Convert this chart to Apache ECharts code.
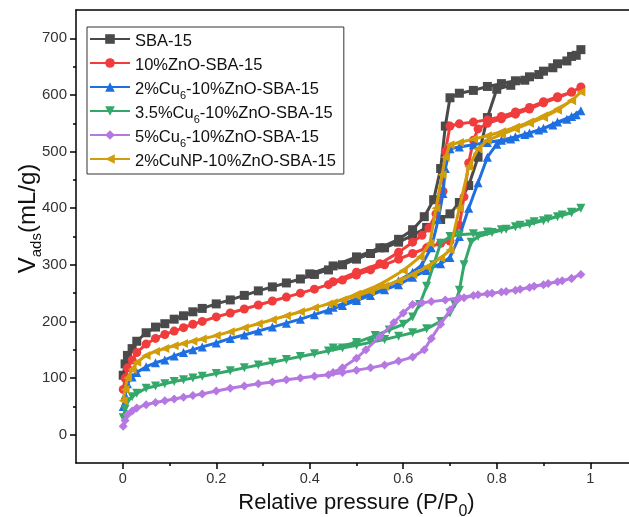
<!DOCTYPE html>
<html><head><meta charset="utf-8">
<script src="https://cdn.jsdelivr.net/npm/echarts@6/dist/echarts.min.js"></script>
<style>html,body{margin:0;padding:0;background:#fff}#c{width:629px;height:517px}</style>
</head><body><div id="c"></div>
<script>
const FONT = "'Liberation Sans', Arial, sans-serif";
const xTicks = [0, 0.2, 0.4, 0.6, 0.8, 1];
const xMinorTicks = [0.1, 0.3, 0.5, 0.7, 0.9];
const yTicks = [0, 100, 200, 300, 400, 500, 600, 700];
const yMinorTicks = [50, 150, 250, 350, 450, 550, 650];

const seriesNames = ['SBA-15', '10%ZnO-SBA-15', '2%Cu6-10%ZnO-SBA-15', '3.5%Cu6-10%ZnO-SBA-15', '5%Cu6-10%ZnO-SBA-15', '2%CuNP-10%ZnO-SBA-15'];
const seriesColors = ['#4a4a4a', '#f03c3c', '#1f6fe0', '#34a86a', '#b478e0', '#d29d0a'];
const seriesSymbols = ['rect', 'circle', 'triangle', 'triangle', 'diamond', 'triangle'];
const seriesRotate = [0, 0, 0, 180, 0, 90];

// [P/P0, V] adsorption branch then desorption branch
const sba15Ads = [[0.001,105],[0.005,125],[0.01,140],[0.02,152],[0.03,165],[0.05,180],[0.07,190],[0.09,196],[0.11,204],[0.13,210],[0.15,217],[0.17,223],[0.2,231],[0.23,238],[0.26,246],[0.29,254],[0.32,261],[0.35,268],[0.38,275],[0.41,283],[0.44,291],[0.47,300],[0.5,310],[0.53,320],[0.56,330],[0.59,340],[0.62,352],[0.65,366],[0.68,380],[0.70,390],[0.72,410],[0.74,440],[0.76,490],[0.78,560],[0.80,610],[0.83,617],[0.86,626],[0.89,636],[0.92,648],[0.95,660],[0.97,670],[0.98,680]];
const sba15Des = [[0.96,668],[0.93,655],[0.90,642],[0.87,632],[0.84,625],[0.81,620],[0.78,615],[0.75,608],[0.72,603],[0.70,595],[0.69,545],[0.68,470],[0.665,415],[0.645,385],[0.62,362],[0.59,345],[0.55,330],[0.5,314],[0.45,298],[0.4,284]];

const znoAds = [[0.001,80],[0.005,100],[0.01,118],[0.02,132],[0.03,145],[0.05,160],[0.07,170],[0.09,177],[0.11,183],[0.13,189],[0.15,195],[0.17,200],[0.2,208],[0.23,215],[0.26,222],[0.29,229],[0.32,236],[0.35,243],[0.38,250],[0.41,257],[0.44,265],[0.47,273],[0.5,282],[0.53,291],[0.56,300],[0.59,310],[0.62,320],[0.65,330],[0.68,338],[0.70,342],[0.72,370],[0.73,420],[0.74,480],[0.75,520],[0.76,540],[0.78,550],[0.81,558],[0.84,566],[0.87,575],[0.90,586],[0.93,595],[0.96,605],[0.98,614]];
const znoDes = [[0.96,605],[0.93,597],[0.90,588],[0.87,578],[0.84,570],[0.81,562],[0.78,556],[0.75,552],[0.72,549],[0.70,545],[0.69,500],[0.685,430],[0.67,390],[0.655,365],[0.64,352],[0.62,340],[0.59,322],[0.55,302],[0.5,287],[0.45,270]];

const cu2Ads = [[0.001,50],[0.005,70],[0.01,90],[0.02,102],[0.03,110],[0.05,120],[0.07,127],[0.09,132],[0.11,139],[0.13,145],[0.15,150],[0.17,155],[0.2,162],[0.23,170],[0.26,176],[0.29,183],[0.32,190],[0.35,197],[0.38,204],[0.41,212],[0.44,220],[0.47,228],[0.5,237],[0.53,246],[0.56,256],[0.59,265],[0.62,278],[0.65,290],[0.68,302],[0.70,313],[0.72,350],[0.74,400],[0.76,445],[0.78,490],[0.80,513],[0.83,522],[0.86,530],[0.89,538],[0.92,547],[0.95,557],[0.97,565],[0.98,572]];
const cu2Des = [[0.96,562],[0.93,552],[0.90,541],[0.87,533],[0.84,526],[0.81,520],[0.78,516],[0.75,512],[0.72,508],[0.70,505],[0.69,470],[0.685,426],[0.675,380],[0.66,330],[0.64,300],[0.62,287],[0.59,272],[0.55,258],[0.5,240],[0.45,225]];

const cu35Ads = [[0.001,30],[0.005,45],[0.01,58],[0.02,67],[0.03,73],[0.05,82],[0.07,86],[0.09,90],[0.11,94],[0.13,97],[0.15,100],[0.17,103],[0.2,108],[0.23,113],[0.26,118],[0.29,123],[0.32,128],[0.35,133],[0.38,138],[0.41,143],[0.44,148],[0.47,153],[0.5,158],[0.53,163],[0.56,168],[0.59,174],[0.62,180],[0.65,187],[0.68,200],[0.70,215],[0.71,230],[0.72,255],[0.73,300],[0.745,340],[0.76,350],[0.79,357],[0.82,363],[0.85,370],[0.88,376],[0.91,381],[0.94,388],[0.96,393],[0.98,400]];
const cu35Des = [[0.96,392],[0.93,385],[0.90,378],[0.87,372],[0.84,367],[0.81,362],[0.78,358],[0.75,355],[0.72,353],[0.70,350],[0.68,338],[0.665,300],[0.65,262],[0.635,230],[0.62,208],[0.6,195],[0.57,185],[0.54,175],[0.5,163],[0.45,153]];

const cu5Ads = [[0.001,15],[0.005,25],[0.01,35],[0.02,42],[0.03,47],[0.05,53],[0.07,57],[0.09,60],[0.11,63],[0.13,66],[0.15,69],[0.17,72],[0.2,77],[0.23,82],[0.26,86],[0.29,90],[0.32,93],[0.35,97],[0.38,100],[0.41,103],[0.44,106],[0.47,110],[0.5,114],[0.53,118],[0.56,123],[0.59,130],[0.62,137],[0.645,150],[0.66,170],[0.68,195],[0.70,220],[0.715,238],[0.73,242],[0.76,247],[0.79,250],[0.82,253],[0.85,257],[0.88,262],[0.91,267],[0.94,272],[0.96,276],[0.98,283]];
const cu5Des = [[0.96,276],[0.93,270],[0.90,265],[0.87,260],[0.84,255],[0.81,252],[0.78,249],[0.75,246],[0.72,242],[0.69,238],[0.66,235],[0.64,233],[0.62,230],[0.6,215],[0.58,198],[0.55,173],[0.52,150],[0.5,135],[0.47,118],[0.45,110]];

const cunpAds = [[0.001,60],[0.005,80],[0.01,100],[0.02,115],[0.03,128],[0.05,140],[0.07,147],[0.09,152],[0.11,157],[0.13,161],[0.15,165],[0.17,169],[0.2,175],[0.23,182],[0.26,189],[0.29,196],[0.32,203],[0.35,210],[0.38,217],[0.41,224],[0.44,231],[0.47,238],[0.5,245],[0.53,253],[0.56,262],[0.59,272],[0.62,283],[0.65,296],[0.68,312],[0.70,326],[0.72,400],[0.74,473],[0.76,505],[0.78,520],[0.81,530],[0.84,540],[0.87,550],[0.90,560],[0.93,573],[0.96,590],[0.98,605]];
const cunpDes = [[0.96,590],[0.93,575],[0.90,563],[0.87,552],[0.84,543],[0.81,535],[0.78,528],[0.75,522],[0.72,516],[0.70,512],[0.69,490],[0.683,459],[0.67,400],[0.657,338],[0.636,314],[0.6,290],[0.55,265],[0.5,248],[0.45,233]];

const seriesData = [
  sba15Ads.concat(sba15Des),
  znoAds.concat(znoDes),
  cu2Ads.concat(cu2Des),
  cu35Ads.concat(cu35Des),
  cu5Ads.concat(cu5Des),
  cunpAds.concat(cunpDes)
];

const axisLineStyle = { color: '#000', width: 1.5 };
const legendLabel = n => n.includes('Cu6') ? '{m|' + n.replace('Cu6', 'Cu}{sub|6}{m|') + '}' : '{m|' + n + '}';
const chart = echarts.init(document.getElementById('c'), null, { renderer: 'canvas' });
chart.setOption({
  animation: false,
  backgroundColor: '#fff',
  grid: { left: 76, right: -8, top: 10, bottom: 54, containLabel: false, outerBoundsMode: 'none' },
  legend: {
    orient: 'vertical', left: 87, top: 27,
    padding: [4, 8, 0, 2], itemGap: 1, itemWidth: 40, itemHeight: 12,
    borderColor: '#333', borderWidth: 1,
    data: seriesNames,
    formatter: legendLabel,
    textStyle: {
      fontFamily: FONT, fontSize: 16.5, color: '#111',
      rich: {
        m: { fontFamily: FONT, fontSize: 16.5, color: '#111', lineHeight: 16, verticalAlign: 'top', padding: [2, 0, 4, 0] },
        sub: { fontFamily: FONT, fontSize: 11, color: '#111', lineHeight: 11, verticalAlign: 'top', padding: [11, 0, 0, 0] }
      }
    }
  },
  xAxis: [
    {
      type: 'value', min: -0.1, max: 1.1, position: 'bottom',
      axisLine: { onZero: false, lineStyle: axisLineStyle },
      axisTick: { customValues: xTicks, length: 6, lineStyle: axisLineStyle },
      axisLabel: { customValues: xTicks, formatter: v => String(v), fontFamily: FONT, fontSize: 14.5, color: '#333', margin: 8 },
      splitLine: { show: false },
      name: '{m|Relative pressure (P/P}{sub|0}{m|)}', nameLocation: 'middle', nameGap: 29,
      nameMoveOverlap: false,
      nameTextStyle: {
        fontFamily: FONT, fontSize: 22, color: '#111',
        rich: {
          m: { fontFamily: FONT, fontSize: 22, color: '#111', lineHeight: 22, verticalAlign: 'top', padding: [0, 0, 6, 0] },
          sub: { fontFamily: FONT, fontSize: 16, color: '#111', lineHeight: 16, verticalAlign: 'top', padding: [12, 0, 0, 0] }
        }
      }
    },
    {
      type: 'value', min: -0.1, max: 1.1, position: 'bottom',
      axisLine: { show: false, onZero: false },
      axisTick: { customValues: xMinorTicks, length: 3, lineStyle: axisLineStyle },
      axisLabel: { show: false }, splitLine: { show: false }
    },
    {
      type: 'value', min: -0.1, max: 1.1, position: 'top',
      axisLine: { show: true, onZero: false, lineStyle: axisLineStyle },
      axisTick: { show: false }, axisLabel: { show: false }, splitLine: { show: false }
    }
  ],
  yAxis: [
    {
      type: 'value', min: -50, max: 750, position: 'left',
      axisLine: { show: true, onZero: false, lineStyle: axisLineStyle },
      axisTick: { show: true, customValues: yTicks, length: 6, lineStyle: axisLineStyle },
      axisLabel: { customValues: yTicks, fontFamily: FONT, fontSize: 15, color: '#333', margin: 9 },
      splitLine: { show: false },
      name: '{m|V}{sub|ads}{m|(mL/g)}', nameLocation: 'middle', nameGap: 34, nameRotate: 90,
      nameMoveOverlap: false,
      nameTextStyle: {
        fontFamily: FONT, fontSize: 24, color: '#111', padding: [0, 0, 0, 36],
        rich: {
          m: { fontFamily: FONT, fontSize: 24, color: '#111', lineHeight: 26, verticalAlign: 'top', padding: [0, 0, 6, 0] },
          sub: { fontFamily: FONT, fontSize: 15, color: '#111', lineHeight: 15, verticalAlign: 'top', padding: [13, 0, 0, 0] }
        }
      }
    },
    {
      type: 'value', min: -50, max: 750, position: 'left',
      axisLine: { show: false, onZero: false },
      axisTick: { show: true, customValues: yMinorTicks, length: 3, lineStyle: axisLineStyle },
      axisLabel: { show: false }, splitLine: { show: false }
    }
  ],
  series: seriesNames.map((name, i) => ({
    name, type: 'line', xAxisIndex: 0, yAxisIndex: 0,
    data: seriesData[i],
    symbol: seriesSymbols[i], symbolRotate: seriesRotate[i], symbolSize: 9,
    showAllSymbol: true,
    lineStyle: { color: seriesColors[i], width: 3 },
    itemStyle: { color: seriesColors[i] },
    z: 2 + i
  }))
});
</script>
</body></html>
